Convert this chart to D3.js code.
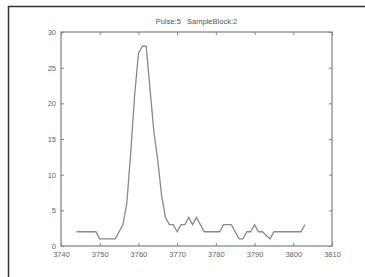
<!DOCTYPE html>
<html>
<head>
<meta charset="utf-8">
<script src="https://cdn.jsdelivr.net/npm/d3@7"></script>
<style>
body { margin: 0; background: #fff; }
text { font-family: "Liberation Sans", Arial, sans-serif; }
</style>
</head>
<body>
<div id="chart"></div>
<script>
//sample positions and counts
var samples = d3.range(3744, 3804);
var counts = [2, 2, 2, 2, 2, 2, 1, 1, 1, 1,
    1, 2, 3, 6, 13, 21, 27, 28, 28, 22,
    16, 12, 7, 4, 3, 3, 2, 3, 3, 4,
    3, 4, 3, 2, 2, 2, 2, 2, 3, 3,
    3, 2, 1, 1, 2, 2, 3, 2, 2, 1.5,
    1, 2, 2, 2, 2, 2, 2, 2, 2, 3];
var xTicks = [3740, 3750, 3760, 3770, 3780, 3790, 3800, 3810];
var yTicks = [0, 5, 10, 15, 20, 25, 30];
var title = "Pulse:5   SampleBlock:2";

var svgW = 365;
var svgH = 277;

var margin = {top: 32, right: 33, bottom: 31, left: 61};
var width = svgW - margin.left - margin.right;
var height = svgH - margin.top - margin.bottom;

var svg = d3.select("#chart").append("svg")
    .attr("width", svgW)
    .attr("height", svgH);

//outer frame (only top and left edges are inside the window)
svg.append("path")
    .attr("d", `M8.5,${svgH} V6.5 H${svgW}`)
    .attr("fill", "none")
    .attr("stroke", "#333")
    .attr("stroke-width", 1.5);

var chartGroup = svg.append("g")
    .attr("transform", `translate(${margin.left}, ${margin.top})`);

var x = d3.scaleLinear().domain([3740, 3810]).range([0, width]);
var y = d3.scaleLinear().domain([0, 30]).range([height, 0]);

var axisColor = "#808080";
var textColor = "#666";

//inward ticks on every side, like a boxed matlab axes
function styleAxis(g) {
    g.select(".domain").remove();
    g.selectAll("line").attr("stroke", axisColor);
    g.selectAll("text").attr("fill", textColor).attr("font-size", "7.5px");
}

chartGroup.append("g")
    .attr("transform", `translate(0, ${height})`)
    .call(d3.axisBottom(x).tickValues(xTicks).tickSize(-3).tickPadding(6).tickFormat(d3.format("d")))
    .call(styleAxis);

chartGroup.append("g")
    .call(d3.axisTop(x).tickValues(xTicks).tickSize(-3).tickFormat(""))
    .call(styleAxis);

chartGroup.append("g")
    .call(d3.axisLeft(y).tickValues(yTicks).tickSize(-3).tickPadding(5))
    .call(styleAxis);

chartGroup.append("g")
    .attr("transform", `translate(${width}, 0)`)
    .call(d3.axisRight(y).tickValues(yTicks).tickSize(-3).tickFormat(""))
    .call(styleAxis);

//axes box
chartGroup.append("rect")
    .attr("width", width)
    .attr("height", height)
    .attr("fill", "none")
    .attr("stroke", axisColor)
    .attr("stroke-width", 1.2);

//the pulse line
var line = d3.line()
    .x((d, i) => x(samples[i]))
    .y(d => y(d));

chartGroup.append("path")
    .datum(counts)
    .attr("d", line)
    .attr("fill", "none")
    .attr("stroke", "#8a8a8a")
    .attr("stroke-width", 1.3);

//title
chartGroup.append("text")
    .attr("x", width / 2)
    .attr("y", -8)
    .attr("text-anchor", "middle")
    .attr("fill", "#555")
    .attr("font-size", "7.5px")
    .style("white-space", "pre")
    .text(title);
</script>
</body>
</html>
